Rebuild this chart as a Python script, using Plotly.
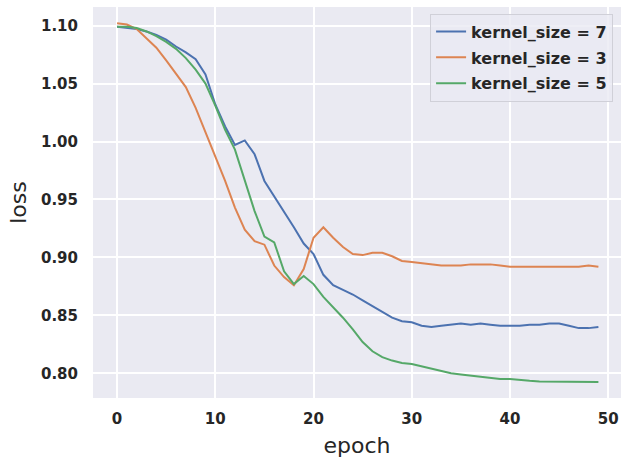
import plotly.graph_objects as go

epochs = list(range(50))

loss_k7 = [1.099, 1.098, 1.097, 1.095, 1.092, 1.088, 1.082, 1.077, 1.071, 1.058,
           1.032, 1.013, 0.997, 1.001, 0.989, 0.966, 0.953, 0.940, 0.926, 0.912,
           0.903, 0.885, 0.876, 0.872, 0.868, 0.863, 0.858, 0.853, 0.848, 0.845,
           0.844, 0.841, 0.840, 0.841, 0.842, 0.843, 0.842, 0.843, 0.842, 0.841,
           0.841, 0.841, 0.842, 0.842, 0.843, 0.843, 0.841, 0.839, 0.839, 0.840]

loss_k3 = [1.102, 1.101, 1.097, 1.089, 1.081, 1.070, 1.059, 1.047, 1.029, 1.008,
           0.987, 0.966, 0.943, 0.924, 0.914, 0.911, 0.893, 0.883, 0.876, 0.890,
           0.917, 0.926, 0.917, 0.909, 0.903, 0.902, 0.904, 0.904, 0.901, 0.897,
           0.896, 0.895, 0.894, 0.893, 0.893, 0.893, 0.894, 0.894, 0.894, 0.893,
           0.892, 0.892, 0.892, 0.892, 0.892, 0.892, 0.8915, 0.892, 0.893, 0.892]

loss_k5 = [1.099, 1.099, 1.098, 1.095, 1.091, 1.086, 1.080, 1.072, 1.062, 1.050,
           1.031, 1.010, 0.993, 0.966, 0.940, 0.918, 0.913, 0.888, 0.877, 0.884,
           0.877, 0.866, 0.857, 0.848, 0.838, 0.827, 0.819, 0.814, 0.811, 0.809,
           0.808, 0.806, 0.804, 0.802, 0.800, 0.799, 0.798, 0.797, 0.796, 0.795,
           0.795, 0.794, 0.7935, 0.793, 0.793, 0.793, 0.7928, 0.7928, 0.7928, 0.7925]

series = [("kernel_size = 7", loss_k7, "#4C72B0"),
          ("kernel_size = 3", loss_k3, "#DD8452"),
          ("kernel_size = 5", loss_k5, "#55A868")]

x_ticks = [0, 10, 20, 30, 40, 50]
y_ticks = [0.80, 0.85, 0.90, 0.95, 1.00, 1.05, 1.10]
y_labels = ["0.80", "0.85", "0.90", "0.95", "1.00", "1.05", "1.10"]

fig = go.Figure()
for i, (name, vals, color) in enumerate(series):
    fig.add_trace(go.Scatter(x=epochs, y=vals, mode="lines", name=name,
                             legendgroup="g%d" % i,
                             line=dict(color=color, width=2)))

tick_font = dict(family="DejaVu Sans", size=15, color="#262626", weight="bold")
title_font = dict(family="DejaVu Sans", size=22, color="#262626")

fig.update_layout(
    width=621, height=460,
    margin=dict(l=93, r=0, t=7, b=62),
    paper_bgcolor="white",
    plot_bgcolor="#EAEAF2",
    font=dict(family="DejaVu Sans", color="#262626"),
    showlegend=True,
    legend=dict(x=0.985, y=0.983, xanchor="right", yanchor="top",
                bgcolor="rgba(234,234,242,0.8)", bordercolor="#d0d0d8", borderwidth=1,
                font=dict(family="DejaVu Sans", size=16, color="#262626", weight="bold"),
                tracegroupgap=2),
    xaxis=dict(range=[-2.45, 51.3], tickvals=x_ticks, showgrid=True, gridcolor="white",
               gridwidth=1.5, zeroline=False, showline=False, ticks="",
               tickfont=tick_font, ticklabelstandoff=10,
               title=dict(text="epoch", font=title_font, standoff=10)),
    yaxis=dict(range=[0.7787, 1.1161], tickvals=y_ticks, ticktext=y_labels, showgrid=True,
               gridcolor="white", gridwidth=1.5, zeroline=False, showline=False, ticks="",
               tickfont=tick_font, ticklabelstandoff=14,
               title=dict(text="loss", font=title_font, standoff=8)),
)

fig.write_html("out.html")
